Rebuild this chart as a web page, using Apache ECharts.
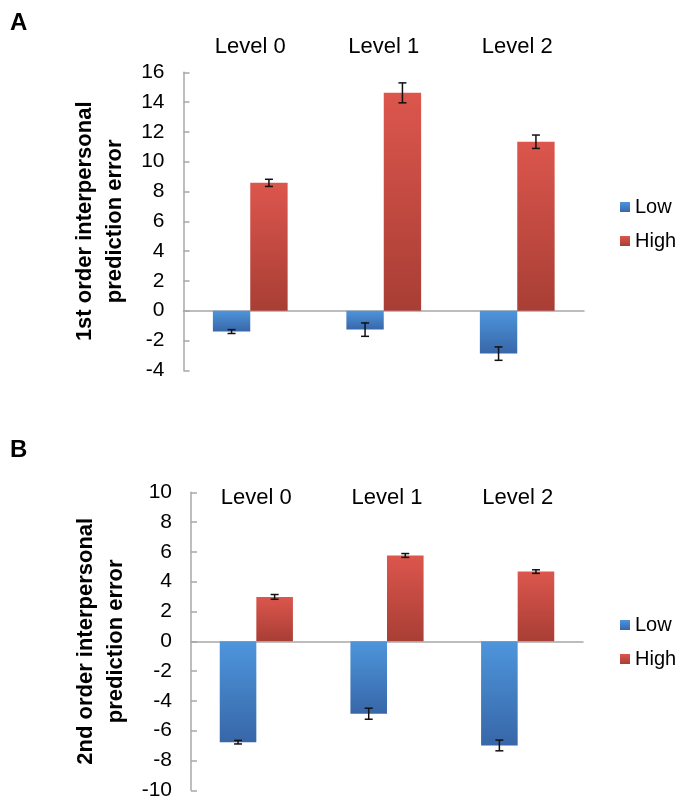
<!DOCTYPE html>
<html>
<head>
<meta charset="utf-8">
<script src="https://cdn.jsdelivr.net/npm/echarts@6/dist/echarts.min.js"></script>
<style>
  html, body { margin: 0; padding: 0; background: #fff; }
  #chart { width: 676px; height: 804px; }
</style>
</head>
<body>
<div id="chart"></div>
<script>
// data
const levels = ['Level 0', 'Level 1', 'Level 2'];
const seriesNames = ['Low', 'High'];

// panel A: 1st order
const firstLow = [-1.40, -1.27, -2.88];
const firstLowErr = [0.13, 0.45, 0.45];
const firstHigh = [8.58, 14.62, 11.34];
const firstHighErr = [0.24, 0.67, 0.45];

// panel B: 2nd order
const secondLow = [-6.77, -4.86, -6.99];
const secondLowErr = [0.12, 0.37, 0.36];
const secondHigh = [2.98, 5.76, 4.68];
const secondHighErr = [0.16, 0.13, 0.12];

const font = 'Liberation Sans, Arial, sans-serif';
const axisGray = '#a8a8a8';

const redFill = new echarts.graphic.LinearGradient(0, 0, 0, 1, [
  { offset: 0, color: '#dc564d' },
  { offset: 1, color: '#a83e35' }
]);
const blueFill = new echarts.graphic.LinearGradient(0, 0, 0, 1, [
  { offset: 0, color: '#4e95dc' },
  { offset: 1, color: '#3767a8' }
]);

// I-beam error bars centred on each bar
const errorItem = (side) => (params, api) => {
  const cat = api.value(0);
  const val = api.value(1);
  const err = api.value(2);
  const catW = api.size([1, 0])[0];
  const dx = side * catW * 0.14;
  const top = api.coord([cat, val + err]);
  const bot = api.coord([cat, val - err]);
  const x = top[0] + dx;
  const cap = 4;
  const style = { stroke: '#111', lineWidth: 1.5, fill: null };
  return {
    type: 'group',
    children: [
      { type: 'line', shape: { x1: x, y1: top[1], x2: x, y2: bot[1] }, style },
      { type: 'line', shape: { x1: x - cap, y1: top[1], x2: x + cap, y2: top[1] }, style },
      { type: 'line', shape: { x1: x - cap, y1: bot[1], x2: x + cap, y2: bot[1] }, style }
    ]
  };
};

const errData = (vals, errs) => vals.map((v, i) => [i, v, errs[i]]);

const yAxisFor = (gridIndex, min, max, name) => ({
  type: 'value',
  gridIndex,
  min, max, interval: 2,
  name,
  nameLocation: 'middle',
  nameGap: 52,
  nameRotate: 90,
  nameTextStyle: { fontFamily: font, fontSize: 22, fontWeight: 'bold', color: '#000', lineHeight: 30 },
  axisLine: { show: true, lineStyle: { color: axisGray, width: 1.5 } },
  axisTick: { show: true, inside: true, length: 6, lineStyle: { color: axisGray, width: 1.5 } },
  axisLabel: { fontFamily: font, fontSize: 21, color: '#000', margin: 19 },
  splitLine: { show: false }
});

const zeroAxis = (gridIndex) => ({
  type: 'category',
  gridIndex,
  data: levels,
  position: 'bottom',
  axisLine: { onZero: true, lineStyle: { color: axisGray, width: 1.5 } },
  axisTick: { show: false },
  axisLabel: { show: false }
});

const labelAxis = (gridIndex, margin) => ({
  type: 'category',
  gridIndex,
  data: levels,
  position: 'top',
  axisLine: { show: false, onZero: false },
  axisTick: { show: false },
  axisLabel: { fontFamily: font, fontSize: 22, color: '#000', margin }
});

const legendFor = (top) => ({
  orient: 'vertical',
  left: 615,
  top,
  itemWidth: 10,
  itemHeight: 10,
  itemGap: 14,
  icon: 'rect',
  data: seriesNames,
  textStyle: { fontFamily: font, fontSize: 20, color: '#000' }
});

const barSeries = (name, data, xIdx, yIdx, color) => ({
  name,
  type: 'bar',
  data,
  xAxisIndex: xIdx,
  yAxisIndex: yIdx,
  barWidth: '28%',
  barGap: '0%',
  itemStyle: { color }
});

const errSeries = (vals, errs, xIdx, yIdx, side) => ({
  type: 'custom',
  renderItem: errorItem(side),
  data: errData(vals, errs),
  xAxisIndex: xIdx,
  yAxisIndex: yIdx,
  z: 5,
  silent: true
});

const chart = echarts.init(document.getElementById('chart'));
chart.setOption({
  animation: false,
  title: [
    { text: 'A', left: 5, top: 6, textStyle: { fontFamily: font, fontSize: 24, fontWeight: 'bold', color: '#000' } },
    { text: 'B', left: 5, top: 433, textStyle: { fontFamily: font, fontSize: 24, fontWeight: 'bold', color: '#000' } }
  ],
  legend: [legendFor(192), legendFor(610)],
  grid: [
    { left: 183.5, right: 92, top: 72.3, height: 298 },
    { left: 191, right: 93, top: 492.3, height: 298 }
  ],
  xAxis: [zeroAxis(0), labelAxis(0, 14), zeroAxis(1), labelAxis(1, -17)],
  yAxis: [
    yAxisFor(0, -4, 16, '1st order interpersonal\nprediction error'),
    yAxisFor(1, -10, 10, '2nd order interpersonal\nprediction error')
  ],
  series: [
    barSeries('Low', firstLow, 0, 0, blueFill),
    barSeries('High', firstHigh, 0, 0, redFill),
    errSeries(firstLow, firstLowErr, 0, 0, -1),
    errSeries(firstHigh, firstHighErr, 0, 0, 1),
    barSeries('Low', secondLow, 2, 1, blueFill),
    barSeries('High', secondHigh, 2, 1, redFill),
    errSeries(secondLow, secondLowErr, 2, 1, -1),
    errSeries(secondHigh, secondHighErr, 2, 1, 1)
  ]
});
</script>
</body>
</html>
